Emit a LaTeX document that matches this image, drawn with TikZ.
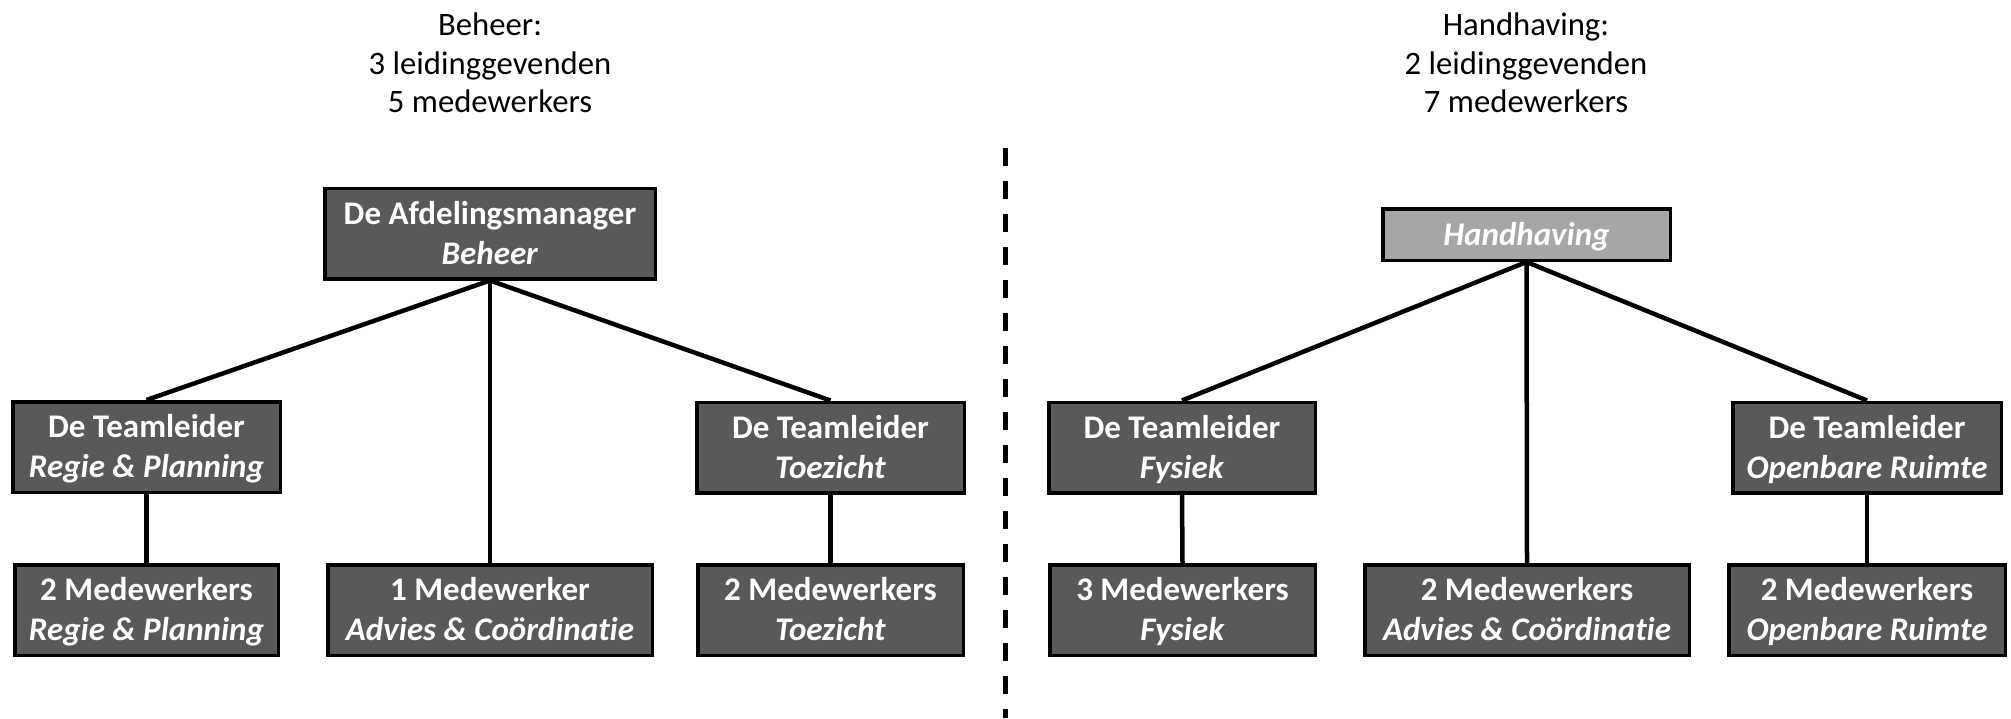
\documentclass[tikz,border=0pt]{standalone}
\usepackage{fontspec}
\setmainfont{Carlito}[RawFeature=-liga]
\usetikzlibrary{backgrounds}
\definecolor{boxgray}{HTML}{595959}
\definecolor{hhgray}{HTML}{A6A6A6}
\newcommand\topstrut{\rule{0pt}{29pt}}
\newcommand\botstrut{\rule[-8pt]{0pt}{8pt}}
\begin{document}
\begin{tikzpicture}[x=1pt,y=-1pt,
  box/.style={draw=black, line width=3.5pt, fill=boxgray, text=white,
    font=\fontsize{33}{40}\selectfont\bfseries, align=center,
    inner sep=0pt, minimum height=90.5pt},
  hhbox/.style={box, fill=hhgray, minimum height=51.5pt},
  title/.style={font=\fontsize{32.7}{38.5}\selectfont, align=center, inner sep=0pt, text=black},
  conn/.style={line width=4.5pt},
  divider/.style={line width=5pt, dash pattern=on 18pt off 15pt}]
\useasboundingbox (0,0) rectangle (2011,718);

% titles
\node[title] (tbeh) at (490,63) {Beheer:\\3 leidinggevenden\\5 medewerkers};
\node[title] (thh) at (1526,63) {Handhaving:\\2 leidinggevenden\\7 medewerkers};

% divider
\coordinate (dtop) at (1005,148);
\coordinate (dbot) at (1005,718);
\draw[divider] (dtop) -- (dbot);

% left tree
\node[box, minimum width=330.5pt] (mgr) at (490,233.5) {\topstrut De Afdelingsmanager\\\textit{Beheer}\botstrut};
\node[box, minimum width=267.5pt] (tlRP) at (146.5,447) {\topstrut De Teamleider\\\textit{Regie \& Planning}\botstrut};
\node[box, minimum width=267.5pt] (tlT) at (830.5,447.5) {\topstrut De Teamleider\\\textit{Toezicht}\botstrut};
\node[box, minimum width=263.5pt] (mRP) at (146.5,610) {\topstrut 2 Medewerkers\\\textit{Regie \& Planning}\botstrut};
\node[box, minimum width=324.5pt] (m1) at (490,610) {\topstrut 1 Medewerker\\\textit{Advies \& Coördinatie}\botstrut};
\node[box, minimum width=265.5pt] (mT) at (830.5,610) {\topstrut 2 Medewerkers\\\textit{Toezicht}\botstrut};

% right tree
\node[hhbox, minimum width=287.5pt] (hh) at (1526.5,234.5) {\topstrut\textit{Handhaving}\botstrut};
\node[box, minimum width=266.5pt] (tlF) at (1182,447.5) {\topstrut De Teamleider\\\textit{Fysiek}\botstrut};
\node[box, minimum width=268.5pt] (tlO) at (1867,447.5) {\topstrut De Teamleider\\\textit{Openbare Ruimte}\botstrut};
\node[box, minimum width=265.5pt] (mF) at (1182.5,610) {\topstrut 3 Medewerkers\\\textit{Fysiek}\botstrut};
\node[box, minimum width=324.5pt] (m2A) at (1527,610) {\topstrut 2 Medewerkers\\\textit{Advies \& Coördinatie}\botstrut};
\node[box, minimum width=276.5pt] (mO) at (1867,610) {\topstrut 2 Medewerkers\\\textit{Openbare Ruimte}\botstrut};

\begin{scope}[on background layer]
\draw[conn] (mgr.south) -- (tlRP.north);
\draw[conn] (mgr.south) -- (tlT.north);
\draw[conn] (mgr.south) -- (m1.north);
\draw[conn] (tlRP.south) -- (mRP.north);
\draw[conn] (tlT.south) -- (mT.north);
\draw[conn] (hh.south) -- (tlF.north);
\draw[conn] (hh.south) -- (tlO.north);
\draw[conn] (hh.south) -- (m2A.north);
\draw[conn] (tlF.south) -- (mF.north);
\draw[conn] (tlO.south) -- (mO.north);
\end{scope}
\end{tikzpicture}
\end{document}
